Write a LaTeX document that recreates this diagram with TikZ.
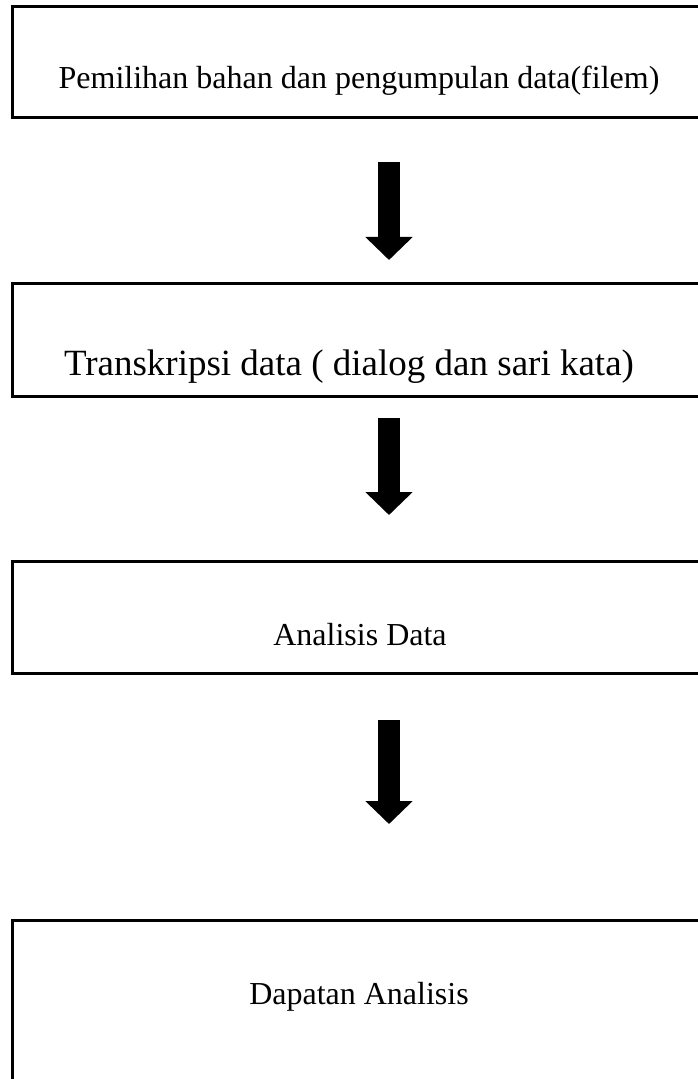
\documentclass[tikz,border=0pt]{standalone}
\usepackage{fontspec}
\setmainfont{Liberation Serif}
\usetikzlibrary{arrows.meta}
\begin{document}
\begin{tikzpicture}[x=0.5pt,y=-0.5pt,
  box/.style={draw=black, line width=1.5pt, anchor=north west, inner sep=0pt, outer sep=0pt, minimum width=347pt},
  lbl/.style={anchor=base, inner sep=0pt, font=\fontsize{16}{19}\selectfont},
  biglbl/.style={lbl, font=\fontsize{18.5}{22}\selectfont},
  bigarrow/.style={line width=11pt, -{Triangle[width=23pt,length=11.5pt]}}]
\useasboundingbox[fill=white] (0,0) rectangle (697,1079);
% boxes
\node[box, minimum height=55.5pt] (b1) at (12,7) {};
\node[box, minimum height=56pt] (b2) at (12,284) {};
\node[box, minimum height=56pt] (b3) at (12,561) {};
\node[box, minimum height=87.5pt] (b4) at (12,920) {};
% labels
\node[lbl] (t1) at (359,89) {Pemilihan bahan dan pengumpulan data(filem)};
\node[biglbl] (t2) at (349,376) {Transkripsi data ( dialog dan sari kata)};
\node[lbl] (t3) at (360,645) {Analisis Data};
\node[lbl] (t4) at (359,1004) {Dapatan Analisis};
% arrows
\coordinate (a1s) at (389,162);
\coordinate (a1e) at (389,260);
\coordinate (a2s) at (389,418);
\coordinate (a2e) at (389,515);
\coordinate (a3s) at (389,720);
\coordinate (a3e) at (389,824);
\draw[bigarrow] (a1s) -- (a1e);
\draw[bigarrow] (a2s) -- (a2e);
\draw[bigarrow] (a3s) -- (a3e);
\end{tikzpicture}
\end{document}
